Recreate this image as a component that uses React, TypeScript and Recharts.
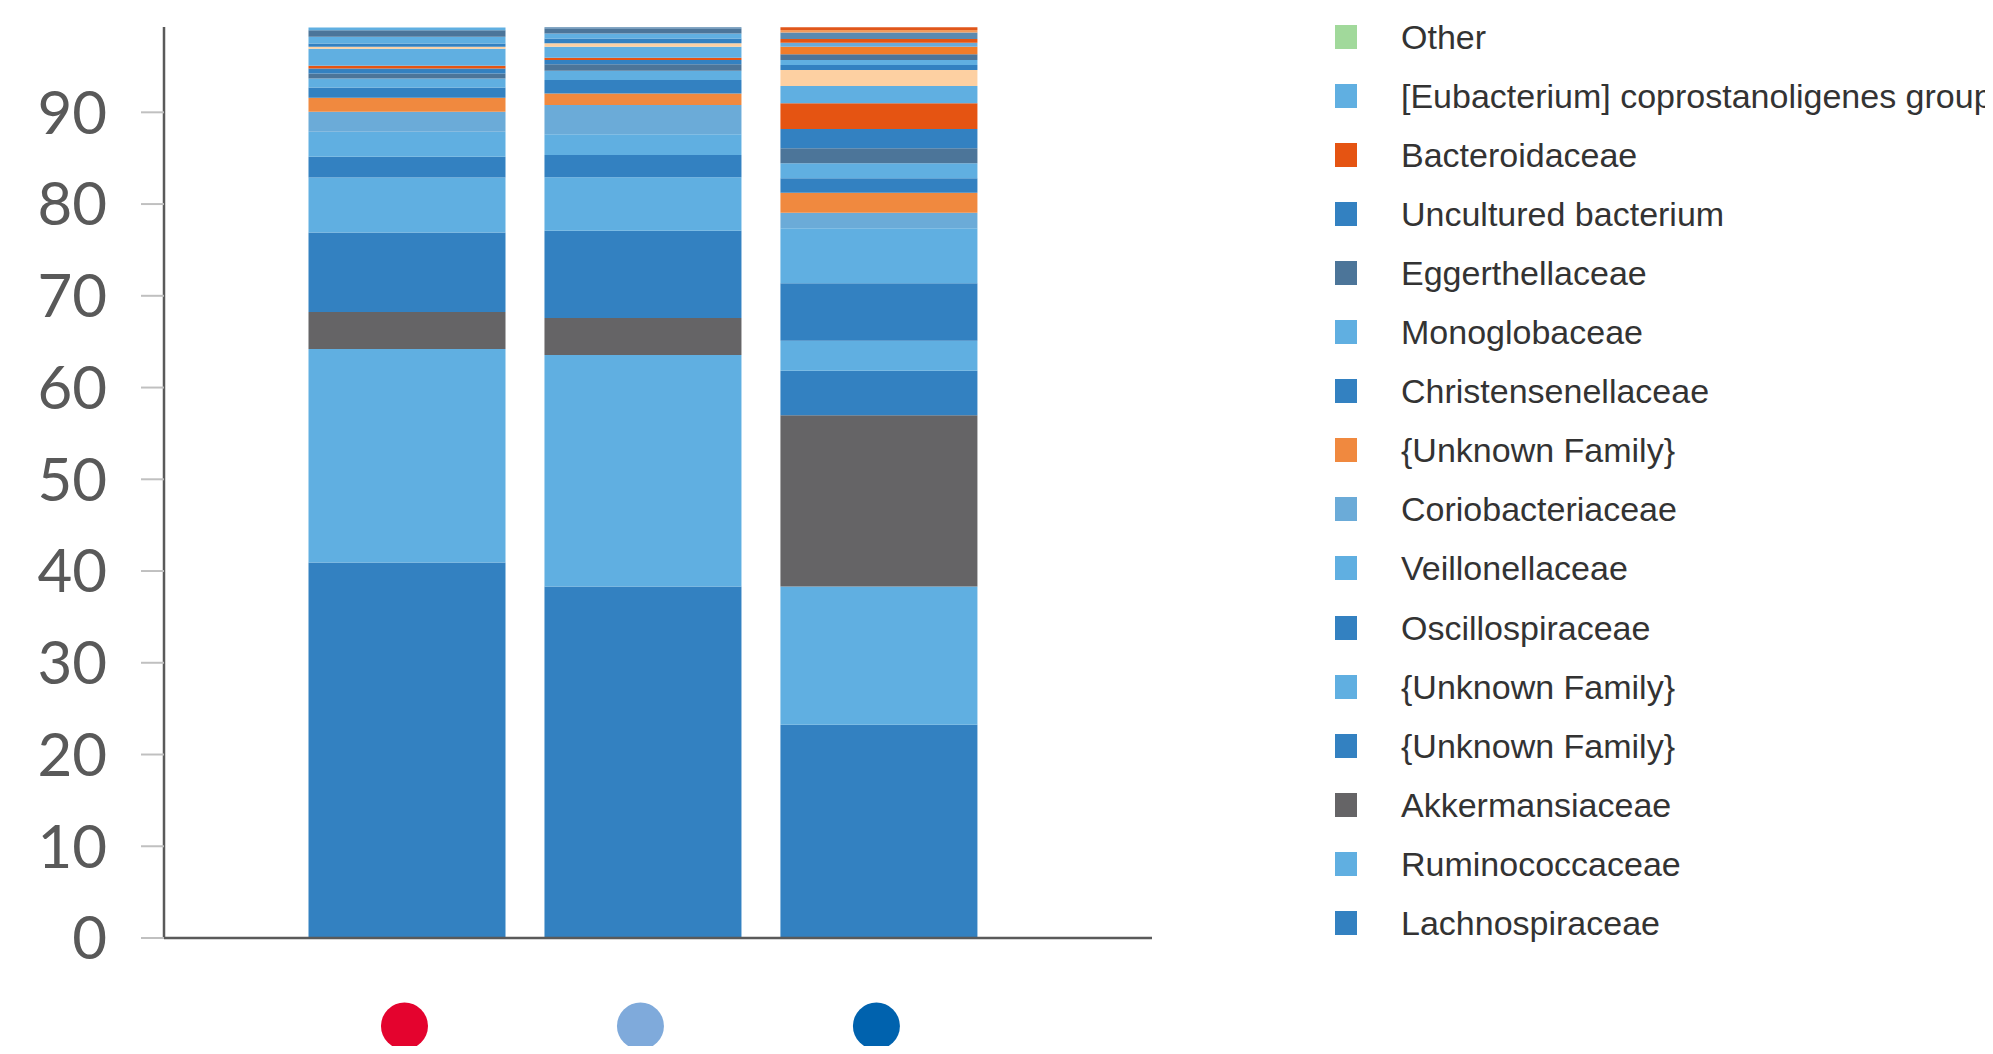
import React from "react";
import { BarChart, Bar, XAxis, YAxis } from "recharts";

// three sample groups, shown only as coloured dots under the bars
const groups = ["Group 1", "Group 2", "Group 3"];
const groupColors = ["#E4032E", "#7FAADB", "#0062AE"];

const yTicks = [0, 10, 20, 30, 40, 50, 60, 70, 80, 90];

// relative abundance (%) per family, one value per group (bottom of stack first)
const lachnospiraceae = [40.93, 38.31, 23.24];
const ruminococcaceae = [23.27, 25.24, 15.07];
const akkermansiaceae = [4.03, 4.03, 18.67];
const unknownFamilyA = [8.68, 9.52, 4.86];
const unknownFamilyB = [5.98, 5.81, 3.27];
const oscillospiraceae = [2.26, 2.44, 6.26];
const veillonellaceae = [2.73, 2.25, 5.99];
const coriobacteriaceae = [2.18, 3.19, 1.7];
const unknownFamilyC = [1.53, 1.26, 2.18];
const christensenellaceae = [1.12, 1.46, 1.57];
const monoglobaceae = [0.98, 1.03, 1.63];
const eggerthellaceae = [0.55, 0.69, 1.63];
const unculturedBacterium = [0.54, 0.47, 2.11];
const bacteroidaceae = [0.29, 0.25, 2.8];
const eubacteriumGroup = [1.85, 1.2, 1.88];
// minor families that are not listed in the legend
const minor1 = [0.22, 0.37, 1.74];
const minor2 = [0.37, 0.54, 0.55];
const minor3 = [0.72, 0.54, 0.55];
const minor4 = [0.72, 0.5, 0.62];
const minor5 = [0, 0, 0.83];
const minor6 = [0, 0, 0.43];
const minor7 = [0, 0, 0.4];
const minor8 = [0, 0.16, 0.73];
const minor9 = [0, 0, 0.25];
const minor10 = [0, 0, 0.3];
const minor11 = [0.3, 0, 0];
const other = [0, 0, 0];

const series = [
  { key: "lachno", name: "Lachnospiraceae", color: "#3381C1", values: lachnospiraceae, legend: true },
  { key: "rumino", name: "Ruminococcaceae", color: "#60AFE1", values: ruminococcaceae, legend: true },
  { key: "akker", name: "Akkermansiaceae", color: "#656466", values: akkermansiaceae, legend: true },
  { key: "unkA", name: "{Unknown Family}", color: "#3381C1", values: unknownFamilyA, legend: true },
  { key: "unkB", name: "{Unknown Family}", color: "#60AFE1", values: unknownFamilyB, legend: true },
  { key: "oscillo", name: "Oscillospiraceae", color: "#3381C1", values: oscillospiraceae, legend: true },
  { key: "veill", name: "Veillonellaceae", color: "#60AFE1", values: veillonellaceae, legend: true },
  { key: "corio", name: "Coriobacteriaceae", color: "#6BABD8", values: coriobacteriaceae, legend: true },
  { key: "unkC", name: "{Unknown Family}", color: "#F0893F", values: unknownFamilyC, legend: true },
  { key: "christ", name: "Christensenellaceae", color: "#3381C1", values: christensenellaceae, legend: true },
  { key: "mono", name: "Monoglobaceae", color: "#60AFE1", values: monoglobaceae, legend: true },
  { key: "egger", name: "Eggerthellaceae", color: "#4C7599", values: eggerthellaceae, legend: true },
  { key: "uncult", name: "Uncultured bacterium", color: "#3381C1", values: unculturedBacterium, legend: true },
  { key: "bacter", name: "Bacteroidaceae", color: "#E55412", values: bacteroidaceae, legend: true },
  { key: "eubact", name: "[Eubacterium] coprostanoligenes group", color: "#60AFE1", values: eubacteriumGroup, legend: true },
  { key: "m1", name: "minor 1", color: "#FDD0A2", values: minor1, legend: false },
  { key: "m2", name: "minor 2", color: "#3381C1", values: minor2, legend: false },
  { key: "m3", name: "minor 3", color: "#60AFE1", values: minor3, legend: false },
  { key: "m4", name: "minor 4", color: "#4C7599", values: minor4, legend: false },
  { key: "m5", name: "minor 5", color: "#F07C2A", values: minor5, legend: false },
  { key: "m6", name: "minor 6", color: "#6BABD8", values: minor6, legend: false },
  { key: "m7", name: "minor 7", color: "#E55412", values: minor7, legend: false },
  { key: "m8", name: "minor 8", color: "#5B8AB0", values: minor8, legend: false },
  { key: "m9", name: "minor 9", color: "#F29A5C", values: minor9, legend: false },
  { key: "m10", name: "minor 10", color: "#E0561A", values: minor10, legend: false },
  { key: "m11", name: "minor 11", color: "#60AFE1", values: minor11, legend: false },
  { key: "other", name: "Other", color: "#A1D99B", values: other, legend: true },
];

const data = groups.map((g, i) => {
  const row: Record<string, string | number> = { group: g };
  series.forEach((s) => {
    row[s.key] = s.values[i];
  });
  return row;
});

const legendItems = series.filter((s) => s.legend).reverse();

const GroupDot = (props: any) => {
  const { x, y, index } = props;
  return <circle cx={x - 3} cy={y + 88} r={23.5} fill={groupColors[index]} />;
};

export default function App() {
  return (
    <div style={{ position: "relative", width: 1985, height: 1038, overflow: "hidden", background: "#fff" }}>
      <BarChart
        width={1985}
        height={1038}
        data={data}
        margin={{ top: 19, right: 841, bottom: 0, left: 0 }}
        barSize={197}
      >
        <XAxis
          dataKey="group"
          height={108}
          padding={{ left: 125.5, right: 154.6 }}
          axisLine={{ stroke: "#5A5A5A", strokeWidth: 2.5 }}
          tickLine={false}
          tickSize={0}
          tickMargin={0}
          tick={<GroupDot />}
          interval={0}
        />
        <YAxis
          width={156}
          domain={[0, 99.3]}
          ticks={yTicks}
          allowDataOverflow
          axisLine={{ stroke: "#5A5A5A", strokeWidth: 2.5 }}
          tickLine={{ stroke: "#C0C0C0", strokeWidth: 2 }}
          tickSize={23}
          tickMargin={34}
          tick={{ fontSize: 60, fill: "#595959", fontFamily: "Lato", fontWeight: 400 }}
        />
        {series.map((s) => (
          <Bar
            key={s.key}
            dataKey={s.key}
            name={s.name}
            stackId="a"
            fill={s.color}
            isAnimationActive={false}
          />
        ))}
      </BarChart>
      {legendItems.map((s, i) => (
        <div
          key={s.key}
          style={{
            position: "absolute",
            left: 1327,
            top: 28.9 + 59.06 * i - 20,
            height: 40,
            display: "flex",
            alignItems: "center",
            whiteSpace: "nowrap",
          }}
        >
          <div style={{ width: 22, height: 24, background: s.color }} />
          <span
            style={{
              marginLeft: 44,
              fontFamily: "'Liberation Sans', Arial, sans-serif",
              fontSize: 34,
              lineHeight: 1,
              color: "#333",
            }}
          >
            {s.name}
          </span>
        </div>
      ))}
    </div>
  );
}
